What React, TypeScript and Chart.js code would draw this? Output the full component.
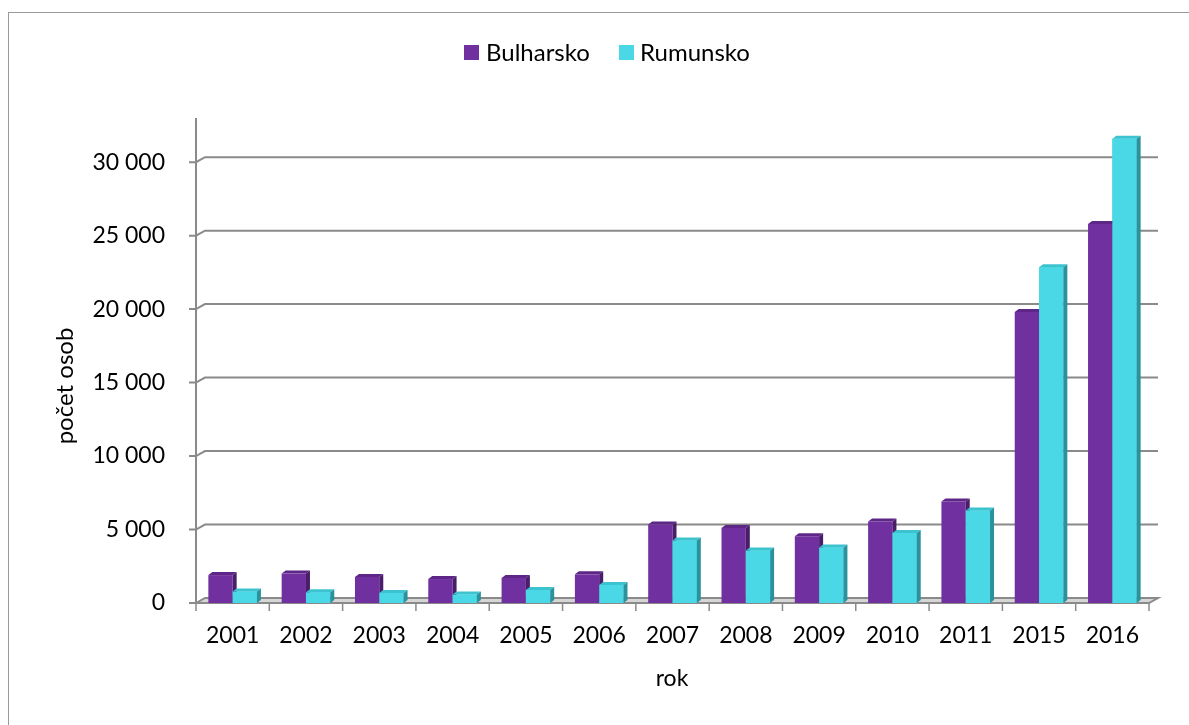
import React, { useEffect, useRef } from "react";
import { Chart, registerables } from "chart.js";

Chart.register(...registerables);

// ---------- data ----------
const categories = ["2001", "2002", "2003", "2004", "2005", "2006", "2007", "2008", "2009", "2010", "2011", "2015", "2016"];
const seriesNames = ["Bulharsko", "Rumunsko"];
const bulharsko = [1900, 2000, 1770, 1630, 1700, 1950, 5350, 5100, 4550, 5550, 6900, 19800, 25800];
const rumunsko = [780, 730, 680, 570, 890, 1230, 4250, 3570, 3770, 4770, 6300, 22850, 31600];
const yTicks = [0, 5000, 10000, 15000, 20000, 25000, 30000];
const yAxisTitle = "počet osob";
const xAxisTitle = "rok";

// ---------- styles ----------
const FONT = "Lato";
const FRONT = ["#7030A0", "#4BD8E6"];
const TOP = ["#5E2787", "#3CC3D0"];
const SIDE = ["#4A1D6B", "#2A929D"];
const GRID = "#8a8a8a";
const Y_MAX = 36000;
const Y_AXIS_LINE_MAX = 33000;
const DX = 9, DY = 5; // wall depth
const BDX = 4, BDY = 3; // bar depth

const fmt = (v: number) => String(v).replace(/\B(?=(\d{3})+(?!\d))/g, " ");

const decor = {
  id: "decor",
  beforeDraw(chart: any) {
    const { ctx, width, height } = chart;
    ctx.save();
    ctx.fillStyle = "#ffffff";
    ctx.fillRect(0, 0, width, height);
    ctx.strokeStyle = "#9a9a9a";
    ctx.lineWidth = 1;
    ctx.strokeRect(8.5, 12.5, width + 100, height + 100);
    ctx.restore();
  },
  beforeDatasetsDraw(chart: any) {
    const { ctx, chartArea, scales } = chart;
    const { left, right } = chartArea;
    const y = scales.y;
    const x = scales.x;
    const y0 = y.getPixelForValue(0);
    const yTop = y.getPixelForValue(Y_AXIS_LINE_MAX);
    ctx.save();
    // floor
    ctx.fillStyle = "#d6d6d6";
    ctx.beginPath();
    ctx.moveTo(left, y0);
    ctx.lineTo(left + DX, y0 - DY);
    ctx.lineTo(right + DX, y0 - DY);
    ctx.lineTo(right, y0);
    ctx.closePath();
    ctx.fill();
    ctx.strokeStyle = GRID;
    ctx.lineWidth = 2;
    yTicks.forEach((v) => {
      const py = y.getPixelForValue(v);
      ctx.beginPath();
      ctx.moveTo(left - 7, py);
      ctx.lineTo(left, py);
      ctx.lineTo(left + DX, py - DY);
      ctx.lineTo(right + DX, py - DY);
      if (v === 0) {
        ctx.lineTo(right, py);
        ctx.lineTo(left, py);
      }
      ctx.stroke();
    });
    // vertical axis line
    ctx.beginPath();
    ctx.moveTo(left, yTop);
    ctx.lineTo(left, y0);
    ctx.stroke();
    // category tick marks
    ctx.lineWidth = 1.5;
    const n = categories.length;
    for (let i = 0; i <= n; i++) {
      let px;
      if (i === 0) px = left;
      else if (i === n) px = right;
      else px = (x.getPixelForValue(i - 1) + x.getPixelForValue(i)) / 2;
      ctx.beginPath();
      ctx.moveTo(px, y0);
      ctx.lineTo(px, y0 + 8);
      ctx.stroke();
    }
    ctx.restore();
  },
  afterDatasetsDraw(chart: any) {
    const { ctx } = chart;
    ctx.save();
    const faces = (el: any, di: number) => {
      const { x, y, base, width } = el.getProps(["x", "y", "base", "width"], true);
      const l = x - width / 2;
      const r = x + width / 2;
      ctx.fillStyle = TOP[di];
      ctx.beginPath();
      ctx.moveTo(l, y);
      ctx.lineTo(l + BDX, y - BDY);
      ctx.lineTo(r + BDX, y - BDY);
      ctx.lineTo(r, y);
      ctx.closePath();
      ctx.fill();
      ctx.fillStyle = SIDE[di];
      ctx.beginPath();
      ctx.moveTo(r, y);
      ctx.lineTo(r + BDX, y - BDY);
      ctx.lineTo(r + BDX, base - BDY);
      ctx.lineTo(r, base);
      ctx.closePath();
      ctx.fill();
    };
    const m0 = chart.getDatasetMeta(0);
    const m1 = chart.getDatasetMeta(1);
    m0.data.forEach((el: any) => faces(el, 0));
    m1.data.forEach((el: any) => {
      el.draw(ctx, chart.chartArea);
      faces(el, 1);
    });
    ctx.restore();
  },
  afterDraw(chart: any) {
    const { ctx } = chart;
    ctx.save();
    ctx.fillStyle = "#000000";
    // legend
    ctx.font = `24px ${FONT}`;
    const boxes = [464, 619];
    const texts = [486, 640];
    chart.data.datasets.forEach((ds: any, i: number) => {
      ctx.fillStyle = FRONT[i];
      ctx.fillRect(boxes[i], 45, 15, 15);
      ctx.fillStyle = "#000000";
      ctx.textAlign = "left";
      ctx.textBaseline = "middle";
      ctx.fillText(ds.label, texts[i], 53);
    });
    // axis titles
    ctx.font = `23px ${FONT}`;
    ctx.textAlign = "center";
    ctx.textBaseline = "alphabetic";
    ctx.fillText(xAxisTitle, 672, 686);
    ctx.translate(73, 386);
    ctx.rotate(-Math.PI / 2);
    ctx.font = `24px ${FONT}`;
    ctx.fillText(yAxisTitle, 0, 0);
    ctx.restore();
  },
};

export default function App() {
  const ref = useRef<HTMLCanvasElement | null>(null);
  useEffect(() => {
    if (!ref.current) return;
    const chart = new Chart(ref.current, {
      type: "bar",
      data: {
        labels: categories,
        datasets: [
          { label: seriesNames[0], data: bulharsko, backgroundColor: FRONT[0], borderWidth: 0, categoryPercentage: 0.663, barPercentage: 1 },
          { label: seriesNames[1], data: rumunsko, backgroundColor: FRONT[1], borderWidth: 0, categoryPercentage: 0.663, barPercentage: 1 },
        ],
      },
      options: {
        animation: false,
        responsive: false,
        devicePixelRatio: 1,
        layout: { padding: { top: 74, right: 40, bottom: 0, left: 0 } },
        plugins: { legend: { display: false }, tooltip: { enabled: false } },
        scales: {
          x: {
            grid: { display: false, drawTicks: false },
            border: { display: false },
            ticks: { color: "#000", font: { family: FONT, size: 23 }, padding: 19, maxRotation: 0, autoSkip: false },
            afterFit: (s: any) => { s.height = 122; },
          },
          y: {
            min: 0,
            max: Y_MAX,
            grid: { display: false, drawTicks: false },
            border: { display: false },
            ticks: { color: "#000", font: { family: FONT, size: 23 }, padding: 31, callback: (v: any) => fmt(Number(v)) },
            afterBuildTicks: (s: any) => { s.ticks = yTicks.map((v) => ({ value: v })); },
            afterFit: (s: any) => { s.width = 196; },
          },
        },
      },
      plugins: [decor],
    } as any);
    return () => chart.destroy();
  }, []);
  return (
    <div style={{ position: "absolute", left: 0, top: 0, width: 1189, height: 725 }}>
      <canvas ref={ref} width={1189} height={725} style={{ width: 1189, height: 725, display: "block" }} />
    </div>
  );
}
